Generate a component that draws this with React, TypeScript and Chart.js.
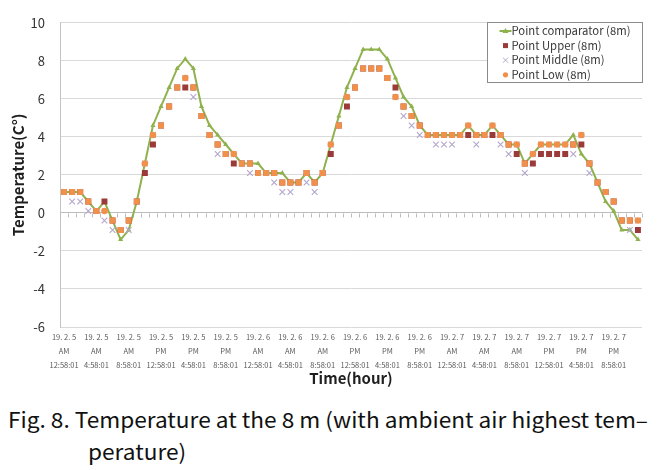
import React, { useEffect, useLayoutEffect, useRef } from 'react';
import { Chart, registerables } from 'chart.js';

Chart.register(...registerables);

// ---------- data ----------
const dayLabels = ['19. 2. 5', '19. 2. 6', '19. 2. 7'];
const timeSuffix = ':58:01';
const labelEvery = 4;

const comparatorValues = [
  1.1, 1.1, 1.1, 0.6, 0.1, 0.6, -0.4, -1.4, -0.9, 0.6,
  2.6, 4.6, 5.6, 6.6, 7.6, 8.1, 7.6, 5.6, 4.6, 4.1,
  3.6, 3.1, 2.6, 2.6, 2.6, 2.1, 2.1, 2.1, 1.6, 1.6,
  2.1, 1.6, 2.1, 3.6, 5.1, 6.6, 7.6, 8.6, 8.6, 8.6,
  8.1, 7.1, 6.1, 5.6, 4.6, 4.1, 4.1, 4.1, 4.1, 4.1,
  4.6, 4.1, 4.1, 4.6, 4.1, 3.6, 3.6, 2.6, 3.1, 3.6,
  3.6, 3.6, 3.6, 4.1, 3.1, 2.6, 1.6, 0.6, 0.1, -0.9,
  -0.9, -1.4,
];
const upperValues = [
  1.1, 1.1, 1.1, 0.6, 0.1, 0.6, -0.4, -0.9, -0.4, 0.6,
  2.1, 3.6, 4.6, 5.6, 6.6, 6.6, 6.6, 5.1, 4.1, 3.6,
  3.1, 2.6, 2.6, 2.6, 2.1, 2.1, 2.1, 1.6, 1.6, 1.6,
  2.1, 1.6, 2.1, 3.1, 4.6, 5.6, 6.6, 7.6, 7.6, 7.6,
  7.1, 6.6, 5.6, 5.1, 4.6, 4.1, 4.1, 4.1, 4.1, 4.1,
  4.1, 4.1, 4.1, 4.1, 4.1, 3.6, 3.1, 2.6, 2.6, 3.1,
  3.1, 3.1, 3.1, 3.6, 3.6, 2.6, 1.6, 1.1, 0.6, -0.4,
  -0.4, -0.9,
];
const middleValues = [
  1.1, 0.6, 0.6, 0.1, 0.1, -0.4, -0.9, -0.9, -0.9, 0.6,
  2.6, 4.1, 4.6, 5.6, 6.6, 7.1, 6.1, 5.1, 4.1, 3.1,
  3.1, 3.1, 2.6, 2.1, 2.1, 2.1, 1.6, 1.1, 1.1, 1.6,
  1.6, 1.1, 2.1, 3.6, 4.6, 6.1, 6.6, 7.6, 7.6, 7.6,
  7.1, 6.1, 5.1, 4.6, 4.1, 4.1, 3.6, 3.6, 3.6, 4.1,
  4.6, 3.6, 4.1, 4.6, 3.6, 3.1, 3.6, 2.1, 3.1, 3.6,
  3.6, 3.6, 3.6, 3.1, 4.1, 2.1, 1.6, 1.1, 0.6, -0.4,
  -0.9, -0.4,
];
const lowValues = [
  1.1, 1.1, 1.1, 0.6, 0.1, 0.1, -0.4, -0.9, -0.4, 0.6,
  2.6, 4.1, 4.6, 5.6, 6.6, 7.1, 6.6, 5.1, 4.1, 3.6,
  3.1, 3.1, 2.6, 2.6, 2.1, 2.1, 2.1, 1.6, 1.6, 1.6,
  2.1, 1.6, 2.1, 3.6, 4.6, 6.1, 6.6, 7.6, 7.6, 7.6,
  7.1, 6.1, 5.6, 5.1, 4.6, 4.1, 4.1, 4.1, 4.1, 4.1,
  4.6, 4.1, 4.1, 4.6, 4.1, 3.6, 3.6, 2.6, 3.1, 3.6,
  3.6, 3.6, 3.6, 3.6, 4.1, 2.6, 1.6, 1.1, 0.6, -0.4,
  -0.4, -0.4,
];

const seriesNames = ['Point comparator (8m)', 'Point Upper (8m)', 'Point Middle (8m)', 'Point Low (8m)'];
const yMin = -6;
const yMax = 10;
const yStep = 2;
const yTitle = 'Temperature(C°)';
const xTitle = 'Time(hour)';
const captionLine1 = 'Fig. 8. Temperature at the 8 m (with ambient air highest tem–';
const captionLine2 = 'perature)';

const categories: string[][] = [];
for (const d of dayLabels) {
  for (let h = 0; h < 24; h++) {
    const ap = h < 12 ? 'AM' : 'PM';
    const hh = h % 12 === 0 ? 12 : h % 12;
    categories.push([d, ap, `${hh}${timeSuffix}`]);
  }
}

// ---------- styles ----------
const C_COMP = '#8fb24f';
const C_UPPER = '#9b3b39';
const C_MIDDLE = '#b3a6cc';
const C_LOW = '#f0904a';
const FONT = "'Noto Sans CJK KR', 'Noto Sans', sans-serif";

const decorPlugin = {
  id: 'decor',
  beforeDatasetsDraw(chart: any) {
    const { ctx, scales } = chart;
    const x = scales.x;
    const y = scales.y;
    const y0 = Math.round(y.getPixelForValue(0)) + 0.5;
    const n = categories.length;
    const step = (x.right - x.left) / n;
    ctx.save();
    ctx.strokeStyle = '#bcbcbc';
    ctx.lineWidth = 1;
    ctx.beginPath();
    for (let k = 0; k <= n; k++) {
      const px = Math.round(x.left + k * step) + 0.5;
      ctx.moveTo(px, y0);
      ctx.lineTo(px, y0 + 4);
    }
    ctx.stroke();
    ctx.restore();
  },
  afterDraw(chart: any) {
    const { ctx, chartArea } = chart;
    const w = 155;
    const h = 60;
    const left = Math.round(chartArea.right - w) + 0.5;
    const top = Math.round(chartArea.top - 1) + 0.5;
    ctx.save();
    ctx.fillStyle = '#ffffff';
    ctx.fillRect(left, top, w, h);
    ctx.strokeStyle = '#8a8a8a';
    ctx.lineWidth = 1;
    ctx.strokeRect(left, top, w, h);
    ctx.font = `11.3px ${FONT}`;
    ctx.textBaseline = 'middle';
    ctx.textAlign = 'left';
    const sx = left + 18;
    for (let k = 0; k < seriesNames.length; k++) {
      const cy = top + 8.5 + k * 14.6;
      if (k === 0) {
        ctx.strokeStyle = C_COMP;
        ctx.lineWidth = 2;
        ctx.beginPath();
        ctx.moveTo(sx - 6, cy);
        ctx.lineTo(sx + 6, cy);
        ctx.stroke();
        ctx.fillStyle = C_COMP;
        ctx.beginPath();
        ctx.moveTo(sx, cy - 3);
        ctx.lineTo(sx + 3, cy + 2);
        ctx.lineTo(sx - 3, cy + 2);
        ctx.closePath();
        ctx.fill();
      } else if (k === 1) {
        ctx.fillStyle = C_UPPER;
        ctx.fillRect(sx - 2.5, cy - 2.5, 5, 5);
      } else if (k === 2) {
        ctx.strokeStyle = C_MIDDLE;
        ctx.lineWidth = 1;
        ctx.beginPath();
        ctx.moveTo(sx - 2.5, cy - 2.5);
        ctx.lineTo(sx + 2.5, cy + 2.5);
        ctx.moveTo(sx + 2.5, cy - 2.5);
        ctx.lineTo(sx - 2.5, cy + 2.5);
        ctx.stroke();
      } else {
        ctx.fillStyle = C_LOW;
        ctx.beginPath();
        ctx.arc(sx, cy, 2.6, 0, Math.PI * 2);
        ctx.fill();
      }
      ctx.fillStyle = '#3a3a3a';
      ctx.fillText(seriesNames[k], left + 24, cy);
    }
    ctx.restore();
  },
};

export default function App() {
  const canvasRef = useRef<HTMLCanvasElement | null>(null);
  const l1 = useRef<HTMLDivElement | null>(null);
  const l2 = useRef<HTMLDivElement | null>(null);

  useLayoutEffect(() => {
    const fit = () => {
      if (!l1.current || !l2.current) return;
      l1.current.style.transform = 'none';
      const w = l1.current.getBoundingClientRect().width;
      if (w > 0) {
        const k = 640 / w;
        l1.current.style.transform = `scaleX(${k})`;
        l2.current.style.transform = `scaleX(${k})`;
      }
    };
    fit();
    if ((document as any).fonts && (document as any).fonts.ready) {
      (document as any).fonts.ready.then(fit);
    }
  }, []);

  useEffect(() => {
    if (!canvasRef.current) return;
    const chart = new Chart(canvasRef.current, {
      type: 'line',
      data: {
        labels: categories,
        datasets: [
          {
            label: seriesNames[0],
            data: comparatorValues,
            borderColor: C_COMP,
            backgroundColor: C_COMP,
            borderWidth: 2,
            pointStyle: 'triangle',
            pointRadius: 3,
            pointBorderWidth: 0,
            pointBackgroundColor: C_COMP,
            tension: 0,
            order: 4,
          },
          {
            label: seriesNames[1],
            data: upperValues,
            showLine: false,
            pointStyle: 'rect',
            pointRadius: 4.2,
            pointBorderWidth: 0,
            pointBackgroundColor: C_UPPER,
            borderColor: C_UPPER,
            backgroundColor: C_UPPER,
            order: 3,
          },
          {
            label: seriesNames[2],
            data: middleValues,
            showLine: false,
            pointStyle: 'crossRot',
            pointRadius: 4,
            pointBorderWidth: 1.1,
            pointBorderColor: C_MIDDLE,
            borderColor: C_MIDDLE,
            backgroundColor: C_MIDDLE,
            order: 2,
          },
          {
            label: seriesNames[3],
            data: lowValues,
            showLine: false,
            pointStyle: (c: any) => (lowValues[c.dataIndex] === upperValues[c.dataIndex] ? 'rect' : 'circle'),
            pointRadius: (c: any) => (lowValues[c.dataIndex] === upperValues[c.dataIndex] ? 4.2 : 3.3),
            pointBorderWidth: 0,
            pointBackgroundColor: C_LOW,
            borderColor: C_LOW,
            backgroundColor: C_LOW,
            order: 1,
          },
        ],
      },
      options: {
        responsive: false,
        animation: false,
        devicePixelRatio: 1,
        layout: { padding: { left: 0, right: 21, top: 16, bottom: 0 } },
        plugins: { legend: { display: false }, tooltip: { enabled: false } },
        scales: {
          x: {
            type: 'category',
            offset: true,
            grid: { display: false, drawTicks: false },
            border: { display: false },
            ticks: {
              autoSkip: false,
              maxRotation: 0,
              minRotation: 0,
              padding: 3.5,
              color: '#595959',
              font: { family: FONT, size: 7.5, lineHeight: '14px' },
              callback: (_v: any, i: number) => (i % labelEvery === 0 ? categories[i] : ''),
            },
            title: {
              display: true,
              text: xTitle,
              color: '#1f1f1f',
              font: { family: FONT, size: 15, weight: 'bold', lineHeight: 1.2 },
              padding: { top: 0, bottom: 4.5 },
            },
            afterFit: (s: any) => {
              s.height = 65;
            },
          },
          y: {
            min: yMin,
            max: yMax,
            ticks: {
              stepSize: yStep,
              padding: 15,
              color: '#333333',
              font: { family: FONT, size: 13 },
            },
            grid: {
              drawTicks: false,
              color: (c: any) => (c.tick && c.tick.value === 0 ? '#bcbcbc' : '#d9d9d9'),
              lineWidth: 1,
            },
            border: { display: true, color: '#c4c4c4' },
            title: {
              display: true,
              text: yTitle,
              color: '#1f1f1f',
              font: { family: FONT, size: 15, weight: 'bold', lineHeight: 1.2 },
              padding: { top: 9, bottom: 0 },
            },
            afterFit: (s: any) => {
              s.width = 60;
            },
          },
        },
      },
      plugins: [decorPlugin],
    } as any);
    return () => chart.destroy();
  }, []);

  const capStyle: React.CSSProperties = {
    position: 'absolute',
    whiteSpace: 'nowrap',
    fontFamily: "'Noto Sans CJK KR', 'Noto Sans', sans-serif",
    fontSize: '21px',
    lineHeight: '26px',
    color: '#111',
    transformOrigin: 'left top',
  };

  return (
    <div style={{ position: 'absolute', left: 0, top: 0, width: 663, height: 470, background: '#fff', overflow: 'hidden' }}>
      <canvas ref={canvasRef} width={663} height={392} style={{ display: 'block', width: 663, height: 392 }} />
      <div ref={l1} style={{ ...capStyle, left: 8, top: 406 }}>{captionLine1}</div>
      <div ref={l2} style={{ ...capStyle, left: 88, top: 438 }}>{captionLine2}</div>
    </div>
  );
}
